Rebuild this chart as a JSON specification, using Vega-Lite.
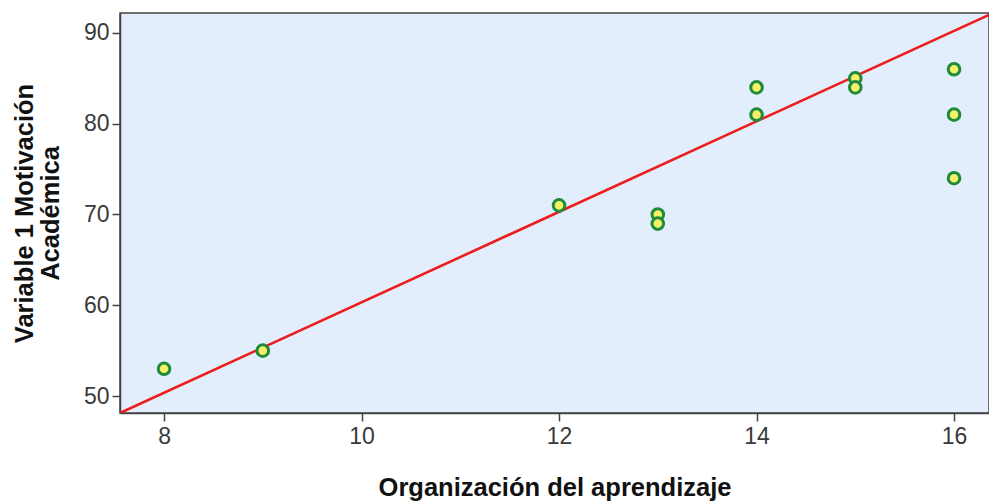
{
  "$schema": "https://vega.github.io/schema/vega-lite/v6.json",
  "width": 869,
  "height": 400,
  "autosize": {"type": "none"},
  "padding": {"left": 120, "top": 13, "right": 0, "bottom": 91},
  "background": "#ffffff",
  "config": {
    "view": {"fill": "#E2EEFB", "stroke": "#444444", "strokeWidth": 1.5},
    "font": "Liberation Sans",
    "axis": {
      "grid": false,
      "domainColor": "#444444",
      "domainWidth": 1.5,
      "tickColor": "#444444",
      "tickWidth": 1.5,
      "tickSize": 8,
      "labelFont": "Liberation Sans",
      "labelFontSize": 23,
      "labelColor": "#3a3a3a",
      "titleFont": "Liberation Sans",
      "titleFontSize": 25.5,
      "titleFontWeight": "bold",
      "titleColor": "#111111"
    }
  },
  "layer": [
    {
      "data": {"values": [
        {"x": 7.554, "y": 48.13},
        {"x": 16.354, "y": 92.0}
      ]},
      "mark": {"type": "line", "color": "#EE1C1C", "strokeWidth": 2.6, "clip": true},
      "encoding": {
        "x": {"field": "x", "type": "quantitative"},
        "y": {"field": "y", "type": "quantitative"}
      }
    },
    {
      "data": {"values": [
        {"org": 8, "mot": 53},
        {"org": 9, "mot": 55},
        {"org": 12, "mot": 71},
        {"org": 13, "mot": 70},
        {"org": 13, "mot": 69},
        {"org": 14, "mot": 84},
        {"org": 14, "mot": 81},
        {"org": 15, "mot": 85},
        {"org": 15, "mot": 84},
        {"org": 16, "mot": 86},
        {"org": 16, "mot": 81},
        {"org": 16, "mot": 74}
      ]},
      "mark": {"type": "point", "filled": false, "fill": "#F4F06A", "fillOpacity": 1, "stroke": "#1E8A3A", "strokeWidth": 3, "size": 135, "opacity": 1},
      "encoding": {
        "x": {
          "field": "org", "type": "quantitative",
          "title": "Organización del aprendizaje",
          "scale": {"domain": [7.554, 16.354], "nice": false, "zero": false},
          "axis": {"values": [8, 10, 12, 14, 16], "format": "d", "labelPadding": 4, "titlePadding": 27}
        },
        "y": {
          "field": "mot", "type": "quantitative",
          "title": ["Variable 1 Motivación", "Académica"],
          "scale": {"domain": [48.13, 92.2], "nice": false, "zero": false},
          "axis": {"values": [50, 60, 70, 80, 90], "format": "d", "labelPadding": 3, "titlePadding": 20, "titleLineHeight": 26}
        }
      }
    }
  ]
}
